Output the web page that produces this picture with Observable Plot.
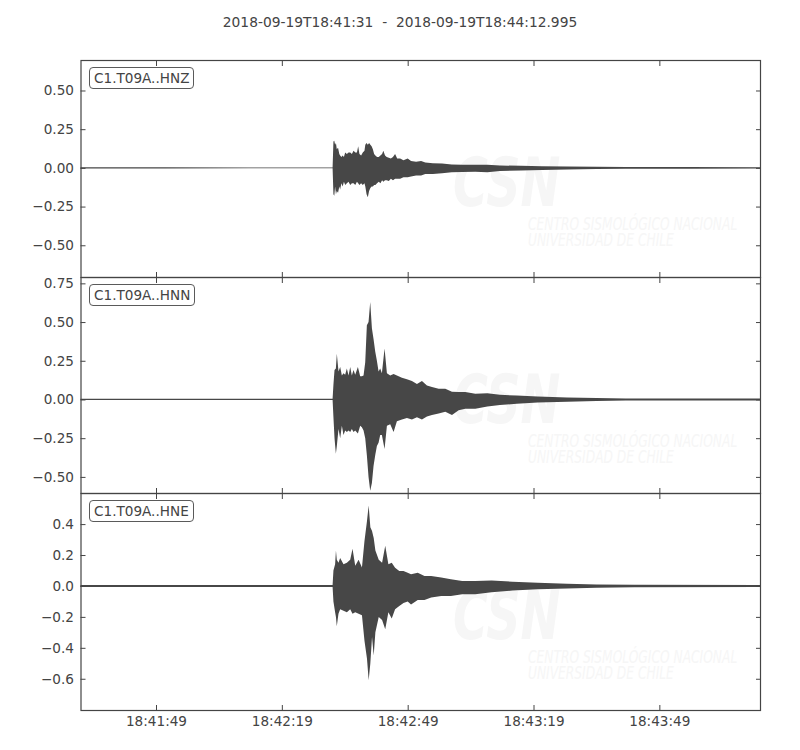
<!DOCTYPE html>
<html>
<head>
<meta charset="utf-8">
<script src="https://cdn.jsdelivr.net/npm/d3@7"></script>
<script src="https://cdn.jsdelivr.net/npm/@observablehq/plot@0.6"></script>
<style>
  html, body { margin: 0; padding: 0; background: #fff; }
  #fig { position: relative; width: 800px; height: 750px; font-family: "DejaVu Sans", sans-serif; overflow: hidden; }
  .title { position: absolute; left: 0; top: 15px; width: 800px; text-align: center; font-size: 13.8px; line-height: 14px; color: #444; white-space: pre; }
  .lbl { position: absolute; left: 89px; border: 1px solid #5a5a5a; border-radius: 4px; background: #fff; font-size: 13.6px; line-height: 18px; padding: 1px 4px; color: #444; white-space: pre; z-index: 3; }
  .wm { position: absolute; color: #f6f6f6; white-space: pre; transform-origin: 0 0; z-index: 0; font-style: italic; }
  .wm.big { font-size: 68px; line-height: 68px; font-weight: bold; transform: scaleX(0.7); }
  .wm.small { font-size: 17px; line-height: 16px; transform: scaleX(0.72); }
  svg { z-index: 1; }
</style>
</head>
<body>
<div id="fig"></div>
<script>
// ---------------- data ----------------
const startISO = "2018-09-19T18:41:31Z";
const durationSec = 161.995;
const titleText = "2018-09-19T18:41:31  -  2018-09-19T18:44:12.995";
const channels = ["C1.T09A..HNZ", "C1.T09A..HNN", "C1.T09A..HNE"];
const xTickLabels = ["18:41:49", "18:42:19", "18:42:49", "18:43:19", "18:43:49"];

const yTicksHNZ = [-0.5, -0.25, 0, 0.25, 0.5];
const yTicksHNN = [-0.5, -0.25, 0, 0.25, 0.5, 0.75];
const yTicksHNE = [-0.6, -0.4, -0.2, 0, 0.2, 0.4];
const yDomainHNZ = [-0.705, 0.697];
const yDomainHNN = [-0.604, 0.791];
const yDomainHNE = [-0.802, 0.601];

// envelope of each trace: seconds after start, upper and lower amplitude
const tHNZ = [0, 20, 40, 60.1, 60.3, 60.5, 60.7, 60.9, 61.1, 61.4, 61.7, 61.9, 62.2, 62.5,
  62.8, 63.1, 63.5, 63.9, 64.3, 64.7, 65.1, 65.5, 65.9, 66.2, 66.5, 66.9, 67.3, 67.7, 67.9, 68.2,
  68.5, 68.8, 69.1, 69.4, 69.7, 70.0, 70.3, 70.7, 71.1, 71.5, 71.9, 72.2, 72.6, 73.0, 73.5, 74.0,
  74.5, 75.0, 75.5, 76.2, 77.0, 78.0, 78.8, 80.0, 81.2, 82.2, 84.0, 86.2, 88.5, 91.0, 94.1, 97.0,
  100, 105, 110, 116, 123, 130, 145, 162];
const hiHNZ = [0.004, 0.004, 0.003, 0.003, 0.17, 0.175, 0.15, 0.16, 0.12, 0.13, 0.09, 0.08, 0.07, 0.08,
  0.07, 0.10, 0.09, 0.10, 0.10, 0.09, 0.11, 0.10, 0.10, 0.14, 0.09, 0.08, 0.10, 0.11, 0.15, 0.16,
  0.15, 0.16, 0.15, 0.14, 0.12, 0.09, 0.08, 0.07, 0.07, 0.08, 0.09, 0.11, 0.08, 0.07, 0.065, 0.06,
  0.07, 0.09, 0.06, 0.06, 0.05, 0.06, 0.045, 0.04, 0.045, 0.035, 0.03, 0.028, 0.022, 0.02, 0.02, 0.02,
  0.016, 0.013, 0.01, 0.009, 0.007, 0.006, 0.005, 0.004];
const loHNZ = [-0.004, -0.004, -0.003, -0.003, -0.17, -0.18, -0.12, -0.17, -0.15, -0.16, -0.12, -0.14, -0.10, -0.12,
  -0.09, -0.11, -0.10, -0.09, -0.11, -0.10, -0.10, -0.11, -0.09, -0.10, -0.11, -0.10, -0.11, -0.10, -0.12, -0.17,
  -0.19, -0.15, -0.13, -0.12, -0.12, -0.11, -0.11, -0.10, -0.09, -0.10, -0.08, -0.09, -0.08, -0.08, -0.085, -0.07,
  -0.08, -0.07, -0.07, -0.07, -0.06, -0.06, -0.055, -0.05, -0.05, -0.04, -0.04, -0.035, -0.028, -0.026, -0.025, -0.028,
  -0.02, -0.017, -0.013, -0.01, -0.008, -0.006, -0.005, -0.004];

const tHNN = [0, 30, 60.1, 60.31, 60.56, 60.88, 61.11, 61.51, 61.91, 62.31, 62.70, 63.10, 63.50,
  63.90, 64.30, 64.69, 65.09, 65.49, 66.13, 66.68, 67.08, 67.48, 67.88, 68.27, 68.67, 69.07, 69.47,
  69.86, 70.26, 70.66, 71.06, 71.45, 71.85, 72.49, 73.05, 73.84, 74.64, 75.43, 76.63, 77.82, 79.01,
  80.21, 81.40, 82.59, 83.79, 85.38, 86.97, 88.56, 90.15, 91.74, 94.13, 97, 100, 104, 109, 116, 123, 130, 162];
const hiHNN = [0.004, 0.004, 0.004, 0.10, 0.19, 0.20, 0.295, 0.18, 0.21, 0.155, 0.17, 0.16, 0.20,
  0.155, 0.21, 0.155, 0.19, 0.16, 0.21, 0.15, 0.15, 0.155, 0.24, 0.48, 0.50, 0.63, 0.46,
  0.39, 0.31, 0.25, 0.18, 0.20, 0.17, 0.33, 0.17, 0.155, 0.165, 0.155, 0.14, 0.13, 0.12,
  0.10, 0.12, 0.09, 0.08, 0.07, 0.07, 0.05, 0.048, 0.048, 0.037, 0.04, 0.03, 0.025, 0.02, 0.013, 0.009, 0.007, 0.006];
const loHNN = [-0.004, -0.004, -0.004, -0.12, -0.25, -0.35, -0.30, -0.19, -0.25, -0.17, -0.23, -0.20, -0.21,
  -0.20, -0.21, -0.19, -0.21, -0.20, -0.22, -0.17, -0.18, -0.20, -0.25, -0.36, -0.50, -0.59, -0.54,
  -0.43, -0.36, -0.30, -0.28, -0.23, -0.23, -0.32, -0.17, -0.16, -0.21, -0.14, -0.13, -0.12, -0.13,
  -0.115, -0.13, -0.11, -0.10, -0.09, -0.08, -0.10, -0.07, -0.06, -0.06, -0.045, -0.035, -0.028, -0.02, -0.014, -0.01, -0.007, -0.006];

const tHNE = [0, 30, 60.1, 60.3, 60.7, 60.9, 61.1, 61.5, 61.9, 62.7, 63.5, 64.3, 64.85,
  65.5, 66.3, 67.1, 67.7, 68.3, 68.7, 69.1, 69.5, 69.9, 70.3, 71.1, 71.9, 72.65, 73.4, 74.2, 75.0,
  76.0, 77.0, 78.0, 78.8, 80.4, 82.0, 83.6, 86.0, 88.3, 91.0, 94.1, 98, 103, 109, 116, 123, 132, 162];
const hiHNE = [0.006, 0.006, 0.006, 0.10, 0.14, 0.23, 0.17, 0.15, 0.18, 0.14, 0.15, 0.17, 0.24,
  0.13, 0.17, 0.12, 0.29, 0.42, 0.52, 0.38, 0.355, 0.31, 0.23, 0.17, 0.15, 0.26, 0.14, 0.15, 0.118,
  0.097, 0.097, 0.086, 0.075, 0.086, 0.065, 0.065, 0.054, 0.043, 0.032, 0.032, 0.035, 0.028, 0.02, 0.014, 0.01, 0.007, 0.006];
const loHNE = [-0.006, -0.006, -0.006, -0.10, -0.17, -0.20, -0.26, -0.18, -0.15, -0.16, -0.17, -0.15, -0.18,
  -0.17, -0.18, -0.19, -0.355, -0.47, -0.61, -0.50, -0.33, -0.45, -0.30, -0.20, -0.22, -0.28, -0.17, -0.21, -0.15,
  -0.13, -0.11, -0.10, -0.12, -0.09, -0.09, -0.075, -0.065, -0.065, -0.054, -0.054, -0.04, -0.03, -0.022, -0.016, -0.011, -0.008, -0.006];

const watermarkBig = "CSN";
const watermarkLines = ["CENTRO SISMOLÓGICO NACIONAL", "UNIVERSIDAD DE CHILE"];

// ---------------- layout ----------------
const panelEdges = [60, 277, 493, 710];
const T0 = Date.parse(startISO);
const xDomain = [new Date(T0), new Date(T0 + durationSec * 1000)];
const xTicks = xTickLabels.map(s => new Date(startISO.slice(0, 11) + s + "Z"));
const INK = "#444";

const panels = [
  {name: channels[0], t: tHNZ, hi: hiHNZ, lo: loHNZ, domain: yDomainHNZ, ticks: yTicksHNZ, fmt: ".2f"},
  {name: channels[1], t: tHNN, hi: hiHNN, lo: loHNN, domain: yDomainHNN, ticks: yTicksHNN, fmt: ".2f"},
  {name: channels[2], t: tHNE, hi: hiHNE, lo: loHNE, domain: yDomainHNE, ticks: yTicksHNE, fmt: ".1f"}
];

const fig = document.getElementById("fig");
const title = document.createElement("div");
title.className = "title";
title.textContent = titleText;
fig.appendChild(title);

panels.forEach((p, i) => {
  const top = panelEdges[i], bottom = panelEdges[i + 1];
  const isLast = i === panels.length - 1;
  const mt = 5, mb = isLast ? 40 : 5;

  // faint watermark behind the trace
  const big = document.createElement("div");
  big.className = "wm big";
  big.style.left = "453px"; big.style.top = (top + 89) + "px";
  big.textContent = watermarkBig;
  fig.appendChild(big);
  const small = document.createElement("div");
  small.className = "wm small";
  small.style.left = "528px"; small.style.top = (top + 156) + "px";
  small.textContent = watermarkLines.join("\n");
  fig.appendChild(small);

  const rows = p.t.map((s, j) => ({time: new Date(T0 + s * 1000), hi: p.hi[j], lo: p.lo[j]}));

  const svg = Plot.plot({
    width: 800,
    height: bottom - top + mt + mb,
    marginLeft: 80.5, marginRight: 40, marginTop: mt, marginBottom: mb,
    style: {background: "transparent", fontFamily: "DejaVu Sans, sans-serif", fontSize: "13.6px", color: INK, overflow: "visible"},
    x: {type: "utc", domain: xDomain, label: null},
    y: {domain: p.domain, label: null},
    marks: [
      Plot.areaY(rows, {x: "time", y1: "lo", y2: "hi", fill: "#474747"}),
      Plot.frame({stroke: INK, strokeWidth: 1.2}),
      Plot.axisY(p.ticks, {anchor: "left", tickSize: -5, tickPadding: 12, tickFormat: d3.format(p.fmt), label: null, stroke: INK, fill: INK}),
      Plot.axisY(p.ticks, {anchor: "right", tickSize: -5, fill: "none", label: null, stroke: INK}),
      Plot.axisX(xTicks, {anchor: "top", tickSize: -5, fill: "none", label: null, stroke: INK}),
      Plot.axisX(xTicks, {anchor: "bottom", tickSize: -5, tickPadding: 10.5, tickFormat: d3.utcFormat("%H:%M:%S"), label: null, stroke: INK, fill: isLast ? INK : "none"})
    ]
  });
  svg.style.position = "absolute";
  svg.style.left = "0px";
  svg.style.top = (top - mt) + "px";
  fig.appendChild(svg);

  const lbl = document.createElement("div");
  lbl.className = "lbl";
  lbl.style.top = (top + 7) + "px";
  lbl.textContent = p.name;
  fig.appendChild(lbl);
});
</script>
</body>
</html>
